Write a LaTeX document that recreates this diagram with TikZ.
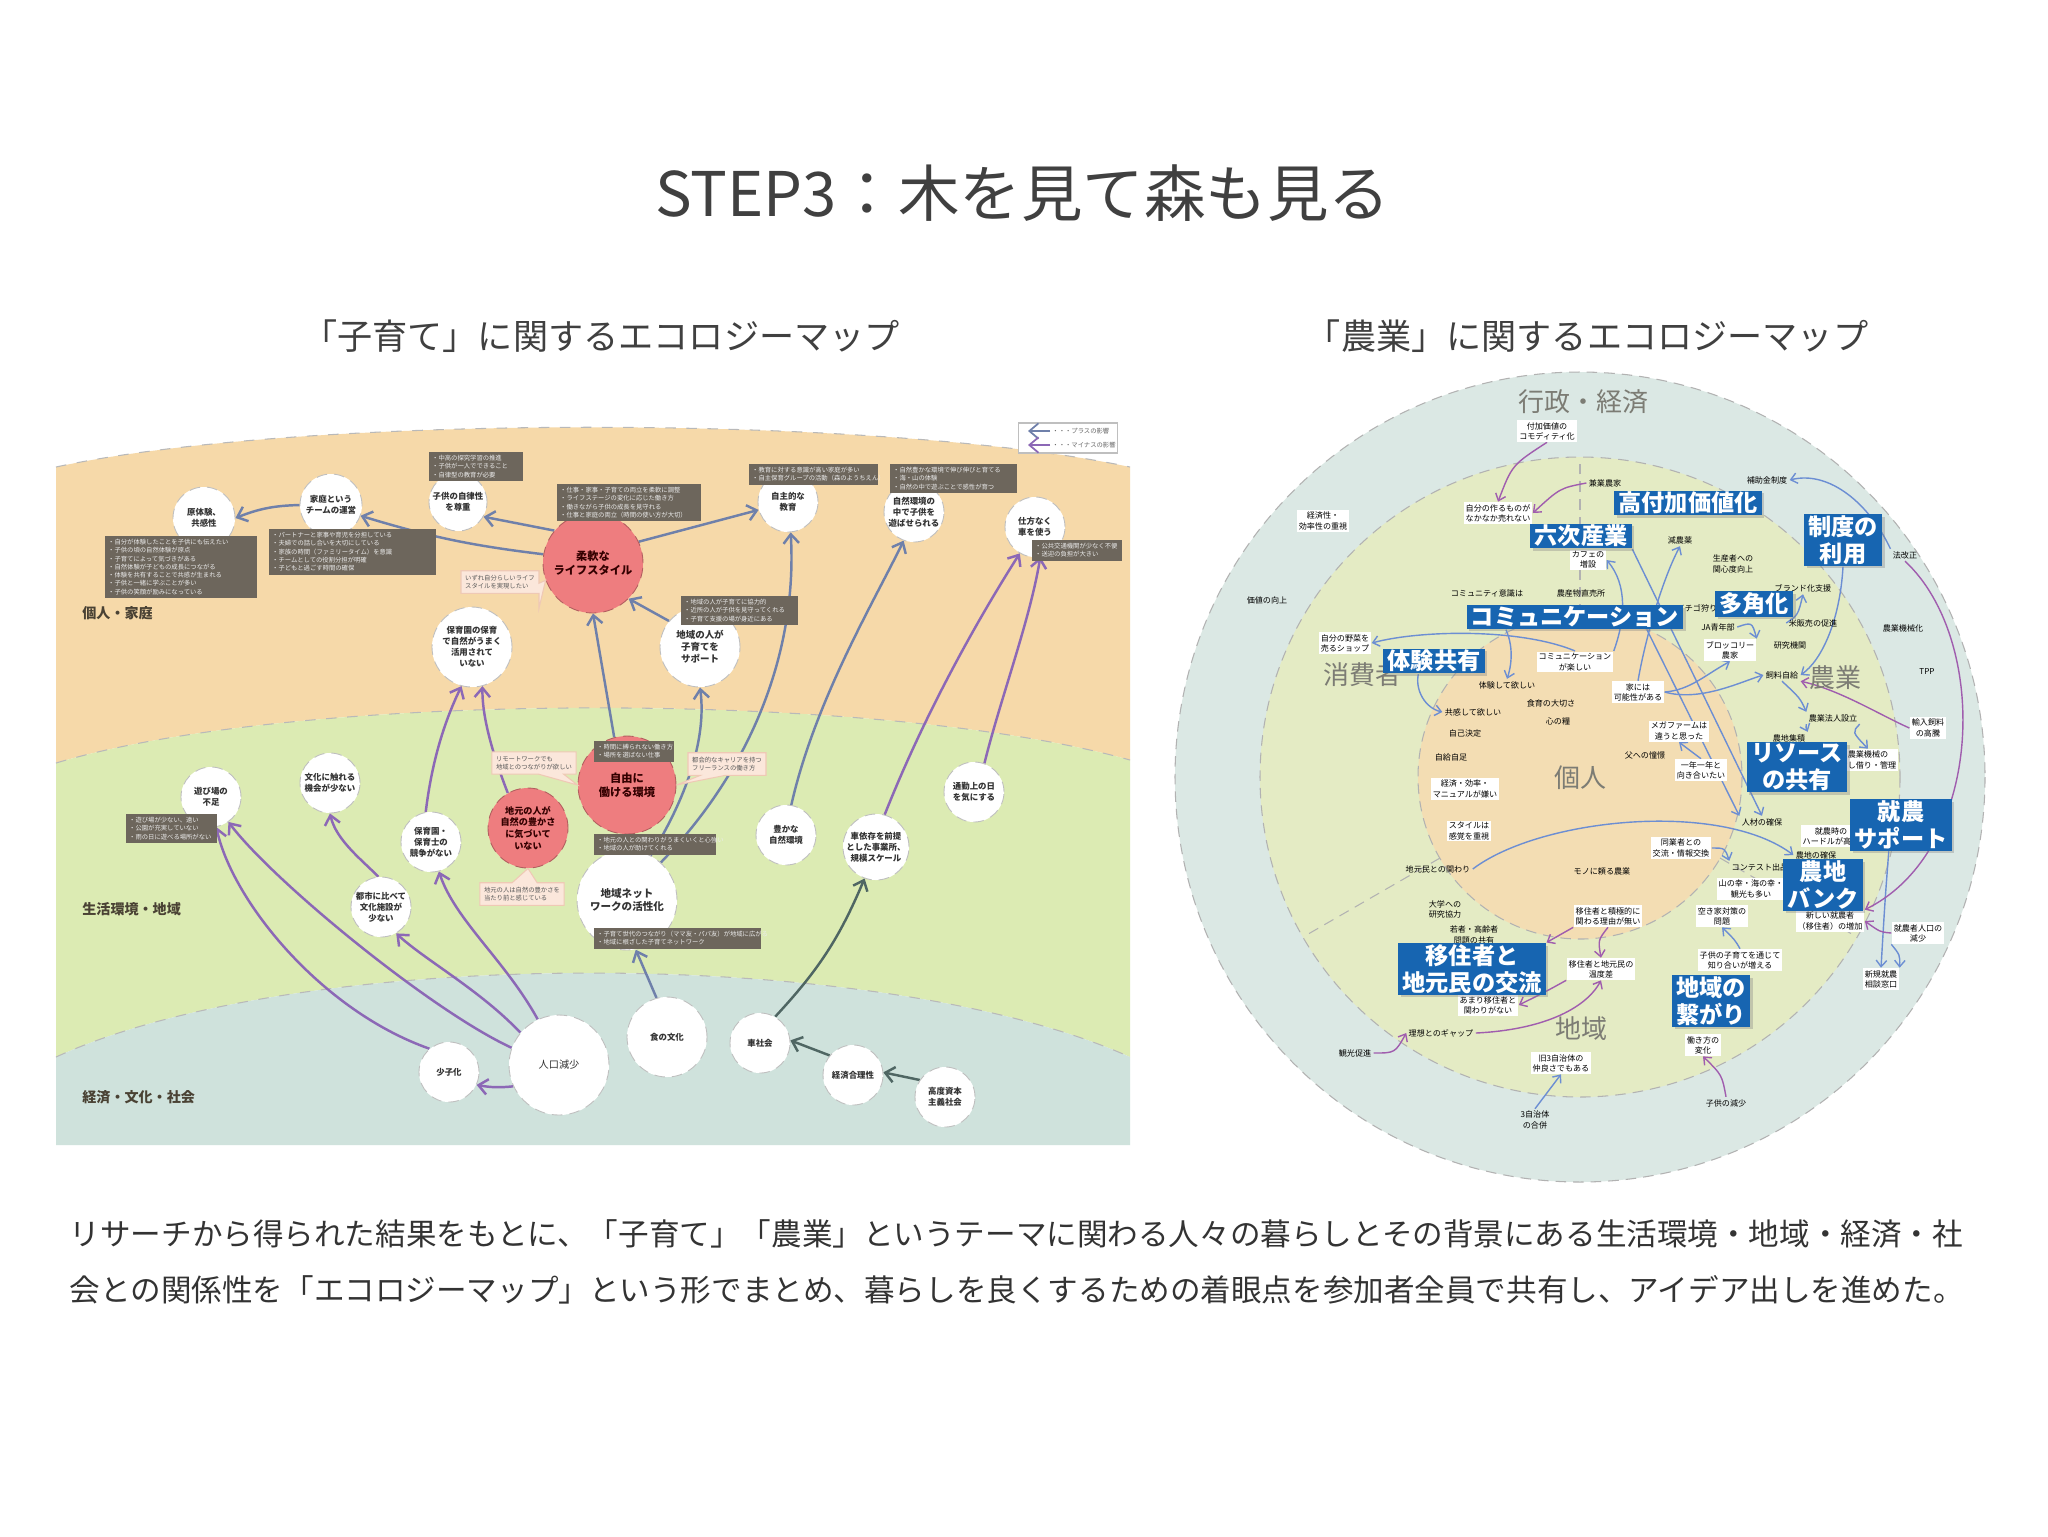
\documentclass[tikz,border=0pt]{standalone}
\usepackage{fontspec}
\setmainfont{Noto Sans CJK JP}
\usetikzlibrary{arrows.meta, calc, shapes.callouts, shadows, backgrounds}

\definecolor{titleink}{HTML}{404040}
\definecolor{bodyink}{HTML}{333333}
\definecolor{bandorange}{HTML}{F6D9A9}
\definecolor{bandgreen}{HTML}{DCEBB3}
\definecolor{bandteal}{HTML}{CFE2DC}
\definecolor{bandink}{HTML}{4A4234}
\definecolor{mapred}{HTML}{EE7D7F}
\definecolor{notebrown}{HTML}{6D665C}
\definecolor{calloutpeach}{HTML}{FBE7DB}
\definecolor{calloutedge}{HTML}{EFC9B5}
\definecolor{arrblue}{HTML}{6F80AA}
\definecolor{arrpurple}{HTML}{8C68B6}
\definecolor{arrteal}{HTML}{4F6663}
\definecolor{ringout}{HTML}{DBE8E4}
\definecolor{ringmid}{HTML}{E4EBC4}
\definecolor{ringin}{HTML}{F3DDB3}
\definecolor{keyblue}{HTML}{1765B1}
\definecolor{sectorgray}{HTML}{7C7C74}
\definecolor{mapblue}{HTML}{6C8ED3}
\definecolor{mappurple}{HTML}{A05DAE}

\newcommand{\titlefont}{\fontsize{17.5}{20}\selectfont}
\newcommand{\headfont}{\fontsize{10}{12}\selectfont}
\newcommand{\bodyfont}{\fontsize{8.7}{10}\selectfont}
\newcommand{\bandfont}{\fontsize{4}{5}\selectfont\bfseries}
\newcommand{\bubfont}{\fontsize{2.4}{3.1}\selectfont\bfseries}
\newcommand{\bigbubfont}{\fontsize{3.2}{4}\selectfont\bfseries}
\newcommand{\notefont}{\fontsize{1.8}{2.35}\selectfont}
\newcommand{\tagfont}{\fontsize{2.3}{2.9}\selectfont}
\newcommand{\keyboxfont}{\fontsize{6.6}{7.6}\selectfont\bfseries}
\newcommand{\sectorfont}{\fontsize{7.4}{8}\selectfont}

\tikzset{
  bub/.style={circle, draw=gray!50, densely dashed, line width=0.25pt, fill=white,
              inner sep=0pt, minimum size=#1, align=center, font=\bubfont, text=black!80},
  redbub/.style={bub=#1, fill=mapred, draw=mapred!75!black, font=\bigbubfont, text=red!20!black},
  note/.style={anchor=north west, fill=notebrown, text=white!92!black, font=\notefont,
               align=left, inner sep=1pt, text width=#1},
  memo/.style={rectangle callout, fill=calloutpeach, draw=calloutedge, line width=0.3pt,
               font=\notefont, text=black!65, align=left, inner sep=1.2pt},
  bandlabel/.style={anchor=west, font=\bandfont, text=bandink},
  bandline/.style={draw=gray!55, dashed, line width=0.3pt},
  plusarr/.style={draw=arrblue, line width=0.7pt, -{Straight Barb[length=2.6pt, width=4.4pt]}},
  minusarr/.style={draw=arrpurple, line width=0.7pt, -{Straight Barb[length=2.6pt, width=4.4pt]}},
  econarr/.style={draw=arrteal, line width=0.7pt, -{Straight Barb[length=2.6pt, width=4.4pt]}},
  keybox/.style={fill=keyblue, text=white, font=\keyboxfont, align=center, inner xsep=1.2pt,
                 inner ysep=0.4pt, drop shadow={shadow xshift=0.25mm, shadow yshift=-0.25mm, opacity=0.35}},
  smalltag/.style={fill=white, font=\tagfont, align=center, inner sep=0.5pt},
  plaintag/.style={font=\tagfont, align=center, inner sep=0.5pt},
  sector/.style={font=\sectorfont, text=sectorgray},
  ringline/.style={draw=gray!60, densely dashed, line width=0.3pt},
  pluslink/.style={draw=mapblue, line width=0.4pt, -{Straight Barb[length=1.8pt, width=3pt]}},
  minuslink/.style={draw=mappurple, line width=0.4pt, -{Straight Barb[length=1.8pt, width=3pt]}}
}

\begin{document}
\begin{tikzpicture}[x=0.1mm, y=-0.1mm]
\useasboundingbox (0,0) rectangle (2048,1536);

% backgrounds: page, bands, rings
\begin{scope}[on background layer]
  \fill[white] (0,0) rectangle (2048,1536);
  \fill[bandorange] (56,467) .. controls (300,414) and (880,414) .. (1130,467)
    -- (1130,760) .. controls (880,690) and (300,690) .. (56,763) -- cycle;
  \fill[bandgreen] (56,763) .. controls (300,690) and (880,690) .. (1130,760)
    -- (1130,1057) .. controls (880,945) and (300,945) .. (56,1057) -- cycle;
  \fill[bandteal] (56,1057) .. controls (300,945) and (880,945) .. (1130,1057)
    -- (1130,1145) -- (56,1145) -- cycle;
  \draw[bandline] (56,467) .. controls (300,414) and (880,414) .. (1130,467);
  \draw[bandline] (56,763) .. controls (300,690) and (880,690) .. (1130,760);
  \draw[bandline] (56,1057) .. controls (300,945) and (880,945) .. (1130,1057);

  \coordinate (ring) at (1580,777);
  \fill[ringout] (ring) circle (405);
  \draw[ringline] (ring) circle (405);
  \fill[ringmid] (ring) circle (320);
  \draw[ringline] (ring) circle (320);
  \fill[ringin] (ring) circle (162);
  \draw[ringline] (ring) circle (162);
  \draw[ringline] (1580,615) -- (1580,457);
  \draw[ringline] (1440,858) -- (1303,937);
  \draw[ringline] (1720,858) -- (1857,937);
\end{scope}

% headings
\node[font=\titlefont, text=titleink] (title) at (1023,193) {STEP3：木を見て森も見る};
\node[font=\headfont, text=titleink] (kosodatehead) at (601,336) {「子育て」に関するエコロジーマップ};
\node[font=\headfont, text=titleink] (nogyohead) at (1587,336) {「農業」に関するエコロジーマップ};

% ---- left map: 子育て ----
\node[bandlabel] (kojinkatei) at (70,613) {個人・家庭};
\node[bandlabel] (seikatsu) at (70,909) {生活環境・地域};
\node[bandlabel] (keizai) at (70,1097) {経済・文化・社会};

\node[bub=6.2mm] (gentaiken) at (204,518) {原体験、\\共感性};
\node[bub=6.2mm] (kateiteam) at (331,505) {家庭という\\チームの運営};
\node[bub=5.8mm] (jiritsu) at (458,502) {子供の自律性\\を尊重};
\node[redbub=10mm] (lifestyle) at (593,563) {柔軟な\\ライフスタイル};
\node[bub=6mm] (jishuedu) at (788,502) {自主的な\\教育};
\node[bub=6mm] (shizenasobi) at (914,512) {自然環境の\\中で子供を\\遊ばせられる};
\node[bub=6mm] (shikatacar) at (1035,527) {仕方なく\\車を使う};
\node[bub=8mm] (hoikushizen) at (472,647) {保育園の保育\\で自然がうまく\\活用されて\\いない};
\node[bub=8mm, font=\fontsize{2.7}{3.4}\selectfont\bfseries] (chiikisupport) at (700,647) {地域の人が\\子育てを\\サポート};
\node[redbub=9.8mm] (freework) at (627,785) {自由に\\働ける環境};
\node[redbub=8mm, font=\fontsize{2.6}{3.3}\selectfont\bfseries] (jimotokizuki) at (528,828) {地元の人が\\自然の豊かさ\\に気づいて\\いない};
\node[bub=10mm, font=\fontsize{3}{3.8}\selectfont\bfseries] (localnet) at (627,900) {地域ネット\\ワークの活性化};
\node[bub=6mm] (hoikukyoso) at (431,842) {保育園・\\保育士の\\競争がない};
\node[bub=6mm] (bunkakikai) at (330,783) {文化に触れる\\機会が少ない};
\node[bub=6mm] (asobiba) at (211,797) {遊び場の\\不足};
\node[bub=6mm] (toshihikaku) at (381,907) {都市に比べて\\文化施設が\\少ない};
\node[bub=6mm] (shoshika) at (449,1072) {少子化};
\node[bub=10mm, font=\fontsize{2.9}{3.6}\selectfont] (jinkogensho) at (559,1065) {人口減少};
\node[bub=8mm] (shokubunka) at (667,1037) {食の文化};
\node[bub=6mm] (carsociety) at (760,1043) {車社会};
\node[bub=6mm] (keizaigori) at (853,1075) {経済合理性};
\node[bub=6mm] (shihonshugi) at (945,1097) {高度資本\\主義社会};
\node[bub=6mm] (carizon) at (876,847) {車依存を前提\\とした事業所、\\規模スケール};
\node[bub=6mm] (yutakashizen) at (786,835) {豊かな\\自然環境};
\node[bub=6mm] (tsukin) at (974,792) {通勤上の日\\を気にする};

\node[note=14.5mm] (notegentaiken) at (104,535) {・自分が体験したことを子供にも伝えたい\\・子供の頃の自然体験が原点\\・子育てによって気づきがある\\・自然体験が子どもの成長につながる\\・体験を共有することで共感が生まれる\\・子供と一緒に学ぶことが多い\\・子供の笑顔が励みになっている};
\node[note=16mm] (notekatei) at (268,528) {・パートナーと家事や育児を分担している\\・夫婦での話し合いを大切にしている\\・家族の時間（ファミリータイム）を意識\\・チームとしての役割分担が明確\\・子どもと過ごす時間の確保};
\node[note=8.7mm] (notejiritsu) at (428,451) {・中高の探究学習の推進\\・子供が一人でできること\\・自律型の教育が必要};
\node[note=13.7mm] (notelifestyle) at (556,483) {・仕事・家事・子育ての両立を柔軟に調整\\・ライフステージの変化に応じた働き方\\・働きながら子供の成長を見守れる\\・仕事と家庭の両立（時間の使い方が大切）};
\node[note=12.2mm] (notejishu) at (748,463) {・教育に対する意識が高い家庭が多い\\・自主保育グループの活動（森のようちえん）};
\node[note=12mm] (noteshizen) at (889,463) {・自然豊かな環境で伸び伸びと育てる\\・海・山の体験\\・自然の中で遊ぶことで感性が育つ};
\node[note=8.3mm] (notecar) at (1031,539) {・公共交通機関が少なく不便\\・送迎の負担が大きい};
\node[note=11mm] (notesupport) at (680,595) {・地域の人が子育てに協力的\\・近所の人が子供を見守ってくれる\\・子育て支援の場が身近にある};
\node[note=7.3mm] (notefree) at (593,740) {・時間に縛られない働き方\\・場所を選ばない仕事};
\node[note=11.5mm] (notenetA) at (593,833) {・地元の人との関わりがうまくいくと心強い\\・地域の人が助けてくれる};
\node[note=16mm] (notenetB) at (593,927) {・子育て世代のつながり（ママ友・パパ友）が地域に広がる\\・地域に根ざした子育てネットワーク};
\node[note=8.4mm] (noteasobi) at (125,813) {・遊び場が少ない、遠い\\・公園が充実していない\\・雨の日に遊べる場所がない};

\node[memo, callout absolute pointer={(lifestyle.200)}] (memolife) at (500,582) {いずれ自分らしいライフ\\スタイルを実現したい};
\node[memo, callout absolute pointer={(freework.west)}] (memofreeL) at (534,763) {リモートワークでも\\地域とのつながりが欲しい};
\node[memo, callout absolute pointer={(freework.east)}] (memofreeR) at (727,764) {都会的なキャリアを持つ\\フリーランスの働き方};
\node[memo, callout absolute pointer={(jimotokizuki.south)}] (memojimoto) at (522,894) {地元の人は自然の豊かさを\\当たり前と感じている};

% legend
\node[draw=gray!50, fill=white, minimum width=9.9mm, minimum height=3mm] (legend) at (1068,438) {};
\node[anchor=west, font=\notefont, text=black!60, inner sep=0.5pt] (legplus) at (1050,431) {・・・プラスの影響};
\node[anchor=west, font=\notefont, text=black!60, inner sep=0.5pt] (legminus) at (1050,445) {・・・マイナスの影響};
\draw[plusarr, line width=0.5pt] (legplus.west) -- ++(-22,0);
\draw[minusarr, line width=0.5pt] (legminus.west) -- ++(-22,0);

% ---- right map: 農業 ----
\node[sector] (gyosei) at (1583,402) {行政・経済};
\node[sector] (shohisha) at (1362,675) {消費者};
\node[sector] (nogyo) at (1835,678) {農業};
\node[sector] (chiiki) at (1581,1029) {地域};
\node[sector] (kojin) at (1580,778) {個人};

\node[smalltag] (t1) at (1547,431) {付加価値の\\コモディティ化};
\node[smalltag] (t2) at (1323,521) {経済性・\\効率性の重視};
\node[plaintag] (t3) at (1267,600) {価値の向上};
\node[plaintag] (t4) at (1767,480) {補助金制度};
\node[plaintag] (t5) at (1905,555) {法改正};
\node[plaintag] (t6) at (1903,628) {農業機械化};
\node[plaintag] (t7) at (1927,672) {TPP};
\node[smalltag] (t8) at (1928,728) {輸入飼料\\の高騰};
\node[smalltag] (t9) at (1918,933) {就農者人口の\\減少};
\node[smalltag] (t10) at (1881,979) {新規就農\\相談窓口};
\node[plaintag] (t11) at (1726,1103) {子供の減少};
\node[plaintag] (t12) at (1535,1120) {3自治体\\の合併};
\node[plaintag] (t13) at (1355,1053) {観光促進};

\node[smalltag] (m1) at (1498,513) {自分の作るものが\\なかなか売れない};
\node[plaintag] (m2) at (1605,483) {兼業農家};
\node[plaintag] (m3) at (1680,540) {減農薬};
\node[smalltag] (m4) at (1588,560) {カフェの\\増設};
\node[plaintag] (m5) at (1733,564) {生産者への\\関心度向上};
\node[plaintag] (m6) at (1803,588) {ブランド化支援};
\node[plaintag] (m7) at (1581,593) {農産物直売所};
\node[plaintag] (m8) at (1697,608) {イチゴ狩り};
\node[plaintag] (m9) at (1487,593) {コミュニティ意識は};
\node[smalltag] (m10) at (1345,643) {自分の野菜を\\売るショップ};
\node[plaintag] (m11) at (1718,627) {JA青年部};
\node[smalltag] (m12) at (1730,650) {ブロッコリー\\農家};
\node[plaintag] (m13) at (1813,623) {米販売の促進};
\node[plaintag] (m14) at (1790,645) {研究機関};
\node[plaintag] (m15) at (1782,675) {飼料自給};
\node[plaintag] (m16) at (1833,718) {農業法人設立};
\node[plaintag] (m17) at (1789,738) {農地集積};
\node[smalltag] (m18) at (1868,760) {農業機械の\\貸し借り・管理};
\node[plaintag] (m19) at (1762,822) {人材の確保};
\node[smalltag] (m20) at (1831,836) {就農時の\\ハードルが高い};
\node[plaintag] (m21) at (1816,855) {農地の確保};
\node[plaintag] (m22) at (1760,867) {コンテスト出品};
\node[smalltag] (m23) at (1751,889) {山の幸・海の幸・\\観光も多い};
\node[smalltag] (m24) at (1722,916) {空き家対策の\\問題};
\node[smalltag] (m25) at (1830,921) {新しい就農者\\（移住者）の増加};
\node[smalltag] (m26) at (1740,960) {子供の子育てを通じて\\知り合いが増える};
\node[smalltag] (m27) at (1703,1045) {働き方の\\変化};
\node[smalltag] (m28) at (1601,969) {移住者と地元民の\\温度差};
\node[smalltag] (m29) at (1561,1063) {旧3自治体の\\仲良さでもある};
\node[plaintag] (m30) at (1441,1033) {理想とのギャップ};
\node[smalltag] (m31) at (1488,1005) {あまり移住者と\\関わりがない};
\node[plaintag] (m32) at (1445,909) {大学への\\研究協力};
\node[plaintag] (m33) at (1474,935) {若者・高齢者\\問題の共有};
\node[plaintag] (m34) at (1438,869) {地元民との関わり};
\node[smalltag] (m35) at (1681,848) {同業者との\\交流・情報交換};

\node[smalltag] (i1) at (1575,662) {コミュニケーション\\が楽しい};
\node[plaintag] (i2) at (1507,685) {体験して欲しい};
\node[plaintag] (i3) at (1551,703) {食育の大切さ};
\node[plaintag] (i4) at (1558,721) {心の糧};
\node[plaintag] (i5) at (1473,712) {共感して欲しい};
\node[plaintag] (i6) at (1465,733) {自己決定};
\node[plaintag] (i7) at (1451,757) {自給自足};
\node[smalltag] (i8) at (1465,789) {経済・効率・\\マニュアルが嫌い};
\node[smalltag] (i9) at (1469,831) {スタイルは\\感覚を重視};
\node[smalltag] (i10) at (1638,692) {家には\\可能性がある};
\node[smalltag] (i11) at (1679,731) {メガファームは\\違うと思った};
\node[plaintag] (i12) at (1645,755) {父への憧憬};
\node[smalltag] (i13) at (1701,770) {一年一年と\\向き合いたい};
\node[plaintag] (i14) at (1602,871) {モノに頼る農業};
\node[smalltag] (i15) at (1608,916) {移住者と積極的に\\関わる理由が無い};

\node[keybox] (bKofuka) at (1688,503) {高付加価値化};
\node[keybox] (bRokuji) at (1581,536) {六次産業};
\node[keybox] (bSeido) at (1843,540) {制度の\\利用};
\node[keybox] (bComm) at (1575,617) {コミュニケーション};
\node[keybox] (bTakaku) at (1754,604) {多角化};
\node[keybox] (bTaiken) at (1434,661) {体験共有};
\node[keybox] (bResource) at (1797,767) {リソース\\の共有};
\node[keybox] (bShuno) at (1901,825) {就農\\サポート};
\node[keybox] (bNochi) at (1823,885) {農地\\バンク};
\node[keybox] (bIju) at (1472,969) {移住者と\\地元民の交流};
\node[keybox] (bTsunagari) at (1711,1001) {地域の\\繋がり};

% connectors (kept under the nodes)
\begin{scope}[on background layer]
  \draw[plusarr] (kateiteam.west) to[bend right=10] (gentaiken.east);
  \draw[plusarr] (lifestyle.170) to[bend left=5] (kateiteam.-20);
  \draw[plusarr] (lifestyle.140) -- (jiritsu.-30);
  \draw[plusarr] (lifestyle.25) -- (jishuedu.195);
  \draw[plusarr] (chiikisupport.140) -- (lifestyle.-45);
  \draw[plusarr] (freework.105) -- (lifestyle.-90);
  \draw[plusarr] (localnet.62) .. controls (685,800) and (707,740) .. (chiikisupport.-90);
  \draw[plusarr] (localnet.48) .. controls (760,760) and (797,640) .. (jishuedu.-85);
  \draw[plusarr] (yutakashizen.80) .. controls (815,700) and (875,600) .. (shizenasobi.-110);
  \draw[plusarr] (shokubunka.105) -- (localnet.-80);
  \draw[econarr] (keizaigori.140) -- (carsociety.5);
  \draw[econarr] (shihonshugi.146) -- (keizaigori.5);
  \draw[econarr] (carsociety.60) to[bend right=10] (carizon.-110);
  \draw[minusarr] (jinkogensho.205) to[bend left=8] (shoshika.-25);
  \draw[minusarr] (shoshika.130) .. controls (320,1010) and (232,900) .. (asobiba.-80);
  \draw[minusarr] (jinkogensho.160) .. controls (430,1010) and (272,880) .. (asobiba.-55);
  \draw[minusarr] (jinkogensho.140) .. controls (480,990) and (425,960) .. (toshihikaku.-60);
  \draw[minusarr] (jinkogensho.115) .. controls (505,960) and (455,920) .. (hoikukyoso.-75);
  \draw[minusarr] (toshihikaku.95) .. controls (362,860) and (336,840) .. (bunkakikai.-90);
  \draw[minusarr] (hoikukyoso.100) .. controls (432,760) and (445,720) .. (hoikushizen.-105);
  \draw[minusarr] (jimotokizuki.120) .. controls (495,760) and (482,720) .. (hoikushizen.-75);
  \draw[minusarr] (carizon.75) .. controls (930,700) and (990,600) .. (shikatacar.-120);
  \draw[minusarr] (tsukin.70) .. controls (1000,700) and (1030,620) .. (shikatacar.-80);

  \draw[pluslink] (i1.north) .. controls (1520,628) and (1420,630) .. (m10.east);
  \draw[pluslink] ($(bComm.south west)+(40,0)$) .. controls (1515,650) and (1510,670) .. (i2.north);
  \draw[pluslink] (bTaiken.-140) .. controls (1415,690) and (1425,708) .. (i5.west);
  \draw[pluslink] (i10.east) .. controls (1690,690) and (1705,675) .. (m12.south);
  \draw[pluslink] (i10.east) .. controls (1700,702) and (1740,682) .. (m15.west);
  \draw[pluslink] (i10.north) .. controls (1645,640) and (1662,580) .. (m3.south);
  \draw[pluslink] (i1.north east) .. controls (1625,620) and (1628,585) .. (m4.east);
  \draw[pluslink] (bRokuji.south east) -- (m19.north);
  \draw[pluslink] (bComm.-10) -- (m19.north west);
  \draw[pluslink] (bSeido.south) .. controls (1840,620) and (1822,660) .. (m15.east);
  \draw[pluslink] (t5.north west) .. controls (1870,505) and (1830,470) .. (t4.east);
  \draw[pluslink] (m15.south) .. controls (1800,698) .. (m16.north west);
  \draw[pluslink] (m16.south west) .. controls (1806,728) .. (m17.north east);
  \draw[pluslink] (m16.south east) .. controls (1852,732) .. (m18.north);
  \draw[pluslink] (m11.east) .. controls (1752,622) .. (m12.north east);
  \draw[pluslink] (m13.west) .. controls (1798,615) .. (m6.south);
  \draw[pluslink] (i13.north) -- (i11.south);
  \draw[pluslink] (m34.east) .. controls (1540,818) and (1720,800) .. (m21.west);
  \draw[pluslink] (m35.east) .. controls (1725,848) .. (m22.north west);
  \draw[pluslink] (m26.north) .. controls (1735,940) .. (m24.south);
  \draw[pluslink] (t12.north) -- (m29.south);
  \draw[pluslink] (bShuno.-115) .. controls (1885,900) .. (t10.north);
  \draw[pluslink] (t9.south west) .. controls (1900,955) .. (t10.north east);

  \draw[minuslink] (t1.south) .. controls (1512,465) .. (m1.north);
  \draw[minuslink] (m2.west) .. controls (1560,488) .. (m1.east);
  \draw[minuslink] (t8.west) .. controls (1880,715) and (1840,690) .. (m15.south east);
  \draw[minuslink] (t5.south) .. controls (1990,640) and (1985,850) .. (m25.north east);
  \draw[minuslink] (t9.west) .. controls (1880,932) .. (m25.east);
  \draw[minuslink] (i15.south) .. controls (1598,940) .. (m28.north);
  \draw[minuslink] (i15.south west) -- (bIju.north east);
  \draw[minuslink] (m28.south west) .. controls (1545,992) .. (m31.east);
  \draw[minuslink] (t13.east) .. controls (1395,1053) .. (m30.west);
  \draw[minuslink] (m30.east) .. controls (1540,1030) and (1585,1010) .. (m28.south);
  \draw[minuslink] (t11.north) .. controls (1722,1075) .. (m27.south);
\end{scope}

% body text
\node[anchor=west, font=\bodyfont, text=bodyink, inner sep=0pt] (bodyA) at (69,1234) {リサーチから得られた結果をもとに、「子育て」「農業」というテーマに関わる人々の暮らしとその背景にある生活環境・地域・経済・社};
\node[anchor=west, font=\bodyfont, text=bodyink, inner sep=0pt] (bodyB) at (69,1290) {会との関係性を「エコロジーマップ」という形でまとめ、暮らしを良くするための着眼点を参加者全員で共有し、アイデア出しを進めた。};
\end{tikzpicture}
\end{document}
